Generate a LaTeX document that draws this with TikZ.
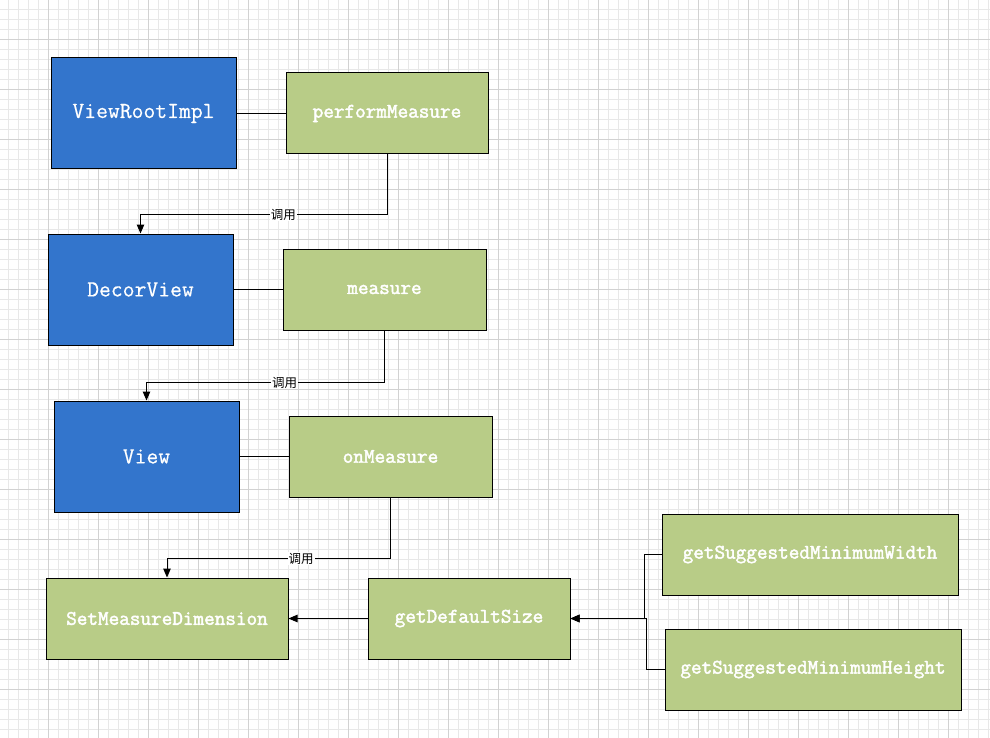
\documentclass[tikz,border=0pt]{standalone}
\usepackage{fontspec}
\newfontfamily\cjk{Noto Sans CJK SC}
\newfontfamily\monoreg[FakeBold=0.4]{Latin Modern Mono}
\newfontfamily\monobold[FakeBold=2.2]{Latin Modern Mono}
\usetikzlibrary{arrows.meta}
\definecolor{bluebox}{HTML}{3375CC}
\definecolor{greenbox}{HTML}{B8CC87}
\definecolor{gridminor}{HTML}{E8E8E8}
\definecolor{gridmajor}{HTML}{D2D2D2}
\tikzset{
  minorline/.style={draw=gridminor, line width=0.8pt},
  majorline/.style={draw=gridmajor, line width=0.8pt},
  bluenode/.style={draw=black, line width=1pt, fill=bluebox, text=white, inner sep=0pt,
    minimum width=185pt, minimum height=111pt, font=\monoreg\bfseries\fontsize{23}{26}\selectfont},
  greennode/.style={draw=black, line width=1pt, fill=greenbox, text=white, inner sep=0pt,
    minimum height=81pt, font=\monobold\bfseries\fontsize{20.6}{24}\selectfont},
  conn/.style={draw=black, line width=1pt},
  arr/.style={conn, -{Triangle[length=9pt,width=7.5pt]}},
  lbl/.style={fill=white, inner sep=1pt, font=\cjk\fontsize{12.5}{14}\selectfont, text=black}
}
\begin{document}
\begin{tikzpicture}[x=1pt,y=-1pt]
\useasboundingbox (0,0) rectangle (990,738);
\fill[white] (0,0) rectangle (990,738);
\foreach \x in {8,18,...,988} \draw[minorline] (\x,0) -- (\x,738);
\foreach \y in {9,19,...,729} \draw[minorline] (0,\y) -- (990,\y);
\foreach \x in {48,98,...,948} \draw[majorline] (\x,0) -- (\x,738);
\foreach \y in {39,89,...,689} \draw[majorline] (0,\y) -- (990,\y);

\node[bluenode] (vri) at (143.5,113.5) {ViewRootImpl};
\node[bluenode] (dv) at (140.5,289.5) {DecorView};
\node[bluenode] (v) at (146.5,456.5) {View};

\node[greennode, minimum width=202pt] (pm) at (387,113.5) {performMeasure};
\node[greennode, minimum width=203pt] (ms) at (384.5,289.5) {measure};
\node[greennode, minimum width=203pt] (om) at (390.5,456.5) {onMeasure};
\node[greennode, minimum width=242pt] (smd) at (167,618.5) {SetMeasureDimension};
\node[greennode, minimum width=202pt] (gds) at (469,618.5) {getDefaultSize};
\node[greennode, minimum width=296pt] (gsw) at (810,554.5) {getSuggestedMinimumWidth};
\node[greennode, minimum width=296pt] (gsh) at (813,669.5) {getSuggestedMinimumHeight};

\draw[conn] (vri.east) -- (pm.west);
\draw[conn] (dv.east) -- (ms.west);
\draw[conn] (v.east) -- (om.west);

\draw[arr] (pm.south) -- ++(0,60) -| node[pos=0.21, lbl] {调用} (dv.north);
\draw[arr] (ms.south) -- ++(0,52) -| node[pos=0.21, lbl] {调用} (v.north);
\draw[arr] (om.south) -- ++(0,61) -| node[pos=0.2, lbl] {调用} (smd.north);

\draw[arr] (gds.west) -- (smd.east);
\draw[arr] (gsw.west) -- ++(-17,0) |- (gds.east);
\draw[arr] (gsh.west) -- ++(-18,0) |- (gds.east);
\end{tikzpicture}
\end{document}
